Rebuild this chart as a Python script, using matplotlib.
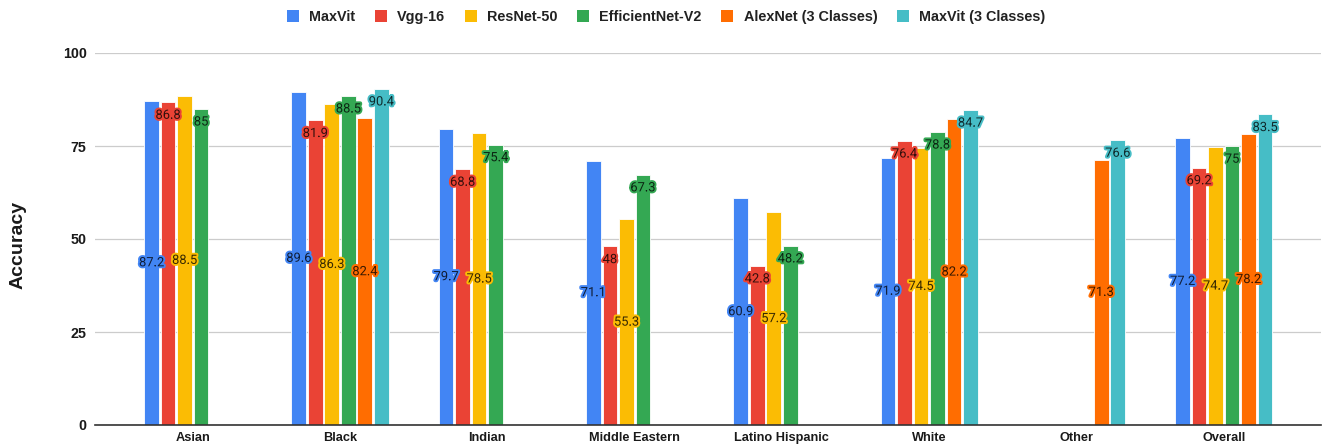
import numpy as np
import matplotlib
matplotlib.use('Agg')
import matplotlib.pyplot as plt
import matplotlib.colors as mcolors
import matplotlib.patheffects as pe
from matplotlib.patches import Patch

categories = ['Asian', 'Black', 'Indian', 'Middle Eastern', 'Latino Hispanic',
              'White', 'Other', 'Overall']
nan = np.nan
maxvit = [87.2, 89.6, 79.7, 71.1, 60.9, 71.9, nan, 77.2]
vgg16 = [86.8, 81.9, 68.8, 48, 42.8, 76.4, nan, 69.2]
resnet50 = [88.5, 86.3, 78.5, 55.3, 57.2, 74.5, nan, 74.7]
effnet_v2 = [85, 88.5, 75.4, 67.3, 48.2, 78.8, nan, 75]
alexnet3 = [nan, 82.4, nan, nan, nan, 82.2, 71.3, 78.2]
maxvit3 = [nan, 90.4, nan, nan, nan, 84.7, 76.6, 83.5]

series_names = ['MaxVit', 'Vgg-16', 'ResNet-50', 'EfficientNet-V2',
                'AlexNet (3 Classes)', 'MaxVit (3 Classes)']
series_vals = [maxvit, vgg16, resnet50, effnet_v2, alexnet3, maxvit3]
colors = ['#4285F4', '#EA4335', '#FBBC04', '#34A853', '#FF6D01', '#46BDC6']

LBL = 'Liberation Sans'


def darken(c, f=0.78):
    r, g, b = mcolors.to_rgb(c)
    return (r * (1 - f), g * (1 - f), b * (1 - f))


fig = plt.figure(figsize=(13.23, 4.47), dpi=100)
ax = fig.add_axes([95 / 1323, 1 - 425 / 447, 1 - 97 / 1323, (425 - 53) / 447])

x = np.arange(len(categories))
slot = 0.112
bw = 0.1
for j, (name, vals, col) in enumerate(zip(series_names, series_vals, colors)):
    v = np.array(vals, dtype=float)
    xs = x + (j - 2.5) * slot
    ax.bar(xs, v, width=bw, color=col, edgecolor='white', linewidth=0.6, zorder=3)
    for xi, vi in zip(xs, v):
        if np.isnan(vi):
            continue
        if j % 2 == 0:
            # label in the middle of the bar
            t = ax.annotate(f'{vi:g}', xy=(xi, vi / 2), ha='center', va='center',
                            fontsize=9.3, family='Roboto', color=darken(col), zorder=5)
        else:
            # label just inside the top of the bar
            t = ax.annotate(f'{vi:g}', xy=(xi, vi), xytext=(0, -9.5),
                            textcoords='offset points', ha='center', va='center',
                            fontsize=9.3, family='Roboto', color=darken(col), zorder=5)
        t.set_path_effects([pe.withStroke(linewidth=2.8, foreground=col)])

ax.set_xlim(-0.664, 7.66)
ax.set_ylim(0, 100)
ax.set_yticks([0, 25, 50, 75, 100])
ax.set_xticks(x)
ax.set_xticklabels(categories, fontsize=9.2, fontweight='bold', family=LBL, color='#1a1a1a')
for lab in ax.get_yticklabels():
    lab.set_fontsize(10.3)
    lab.set_fontweight('bold')
    lab.set_family(LBL)
    lab.set_color('#1a1a1a')
ax.tick_params(axis='x', length=0, pad=5)
ax.tick_params(axis='y', length=0, pad=6)
ax.grid(axis='y', color='#cccccc', lw=0.9, zorder=0)
for s in ['left', 'top', 'right']:
    ax.spines[s].set_visible(False)
ax.spines['bottom'].set_color('#333333')
ax.spines['bottom'].set_linewidth(1.2)
ax.spines['bottom'].set_zorder(4)

fig.text(18 / 1323, 1 - 245 / 447, 'Accuracy', rotation=90, ha='center', va='center',
         fontsize=14, fontweight='bold', family=LBL, color='#1a1a1a')

handles = [Patch(facecolor=c, edgecolor='none') for c in colors]
leg = fig.legend(handles, series_names, loc='center', bbox_to_anchor=(666 / 1323, 1 - 17 / 447),
                 ncol=6, frameon=False, handlelength=0.85, handleheight=0.85,
                 handletextpad=0.7, columnspacing=1.35,
                 prop={'family': LBL, 'weight': 'bold', 'size': 10.4})
for t in leg.get_texts():
    t.set_color('#222222')

fig.savefig('out.png', dpi=100)
